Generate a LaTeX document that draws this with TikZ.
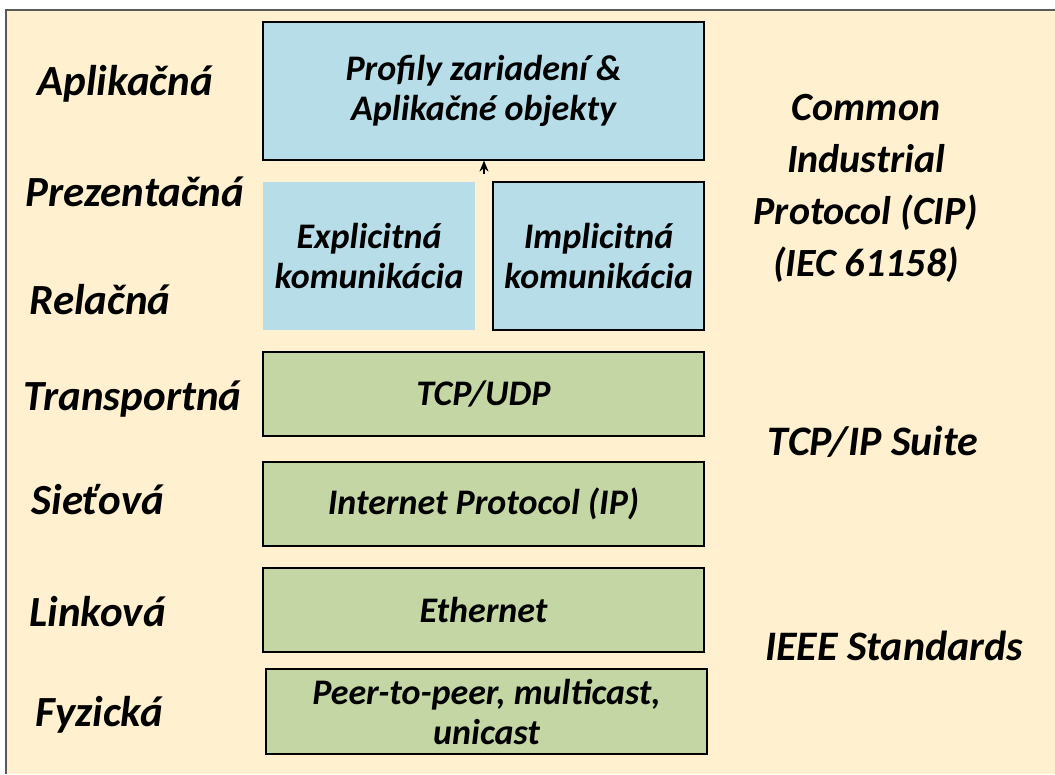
\documentclass[tikz,border=0pt]{standalone}
\usepackage{fontspec}
\setmainfont{Carlito}
\usetikzlibrary{arrows.meta}
\definecolor{cream}{HTML}{FFF0CF}
\definecolor{cipblue}{HTML}{B7DDE8}
\definecolor{tcpgreen}{HTML}{C4D6A4}
\definecolor{frame}{HTML}{595959}
\tikzset{
  layer/.style={font=\fontsize{36}{40}\selectfont\bfseries\itshape, align=center, inner sep=0pt},
  cipbox/.style={layer, fill=cipblue},
  tcpbox/.style={layer, fill=tcpgreen, draw=black, line width=1.2pt},
  osi/.style={font=\fontsize{43}{50}\selectfont\bfseries\itshape, anchor=west},
  stack/.style={font=\fontsize{40}{52}\selectfont\bfseries\itshape, align=center},
  suitelabel/.style={font=\fontsize{42}{50}\selectfont\bfseries\itshape, anchor=base}
}
\begin{document}
\begin{tikzpicture}[x=1pt,y=-1pt]
  \useasboundingbox (0,0) rectangle (1055,774);
  \fill[cream] (6,10) rectangle (1055,774);
  \draw[frame, line width=2pt] (6,774) -- (6,10) -- (1055,10);
  % aplikacna vrstva
  \node[cipbox, draw=black, line width=1.2pt, minimum width=441pt, minimum height=138pt] (app) at (483.5,91) {Profily zariadení \&\\Aplikačné objekty};
  \node[cipbox, minimum width=212pt, minimum height=148pt] (expl) at (369,256) {Explicitná\\komunikácia};
  \node[cipbox, draw=black, line width=1.2pt, minimum width=211pt, minimum height=148pt] (impl) at (598.5,256) {Implicitná\\komunikácia};
  \coordinate (gap) at (484,174);
  \draw[-{Stealth[length=11pt,width=9pt]}, line width=1.2pt] (gap) -- (app.south -| gap);
  % TCP/IP a IEEE
  \node[tcpbox, minimum width=441pt, minimum height=84pt] (tcp) at (483.5,394) {TCP/UDP};
  \node[tcpbox, minimum width=441pt, minimum height=84pt] (ip) at (483.5,504) {Internet Protocol (IP)};
  \node[tcpbox, minimum width=441pt, minimum height=84pt] (eth) at (483.5,610) {Ethernet};
  \node[tcpbox, minimum width=441pt, minimum height=85pt] (phy) at (486.5,711.5) {Peer-to-peer, multicast,\\unicast};
  % vrstvy OSI
  \node[osi] (l7) at (34,84) {Aplikačná};
  \node[osi] (l6) at (22,192) {Prezentačná};
  \node[osi] (l5) at (26,300) {Relačná};
  \node[osi] (l4) at (20,399) {Transportná};
  \node[osi] (l3) at (28,500) {Sieťová};
  \node[osi] (l2) at (26,612) {Linková};
  \node[osi] (l1) at (32,715) {Fyzická};
  % protokoly
  \node[stack] (cip) at (866,188) {Common\\Industrial\\Protocol (CIP)\\(IEC 61158)};
  \node[suitelabel] (suite) at (873,455) {TCP/IP Suite};
  \node[suitelabel] (ieee) at (894,660) {IEEE Standards};
\end{tikzpicture}
\end{document}
